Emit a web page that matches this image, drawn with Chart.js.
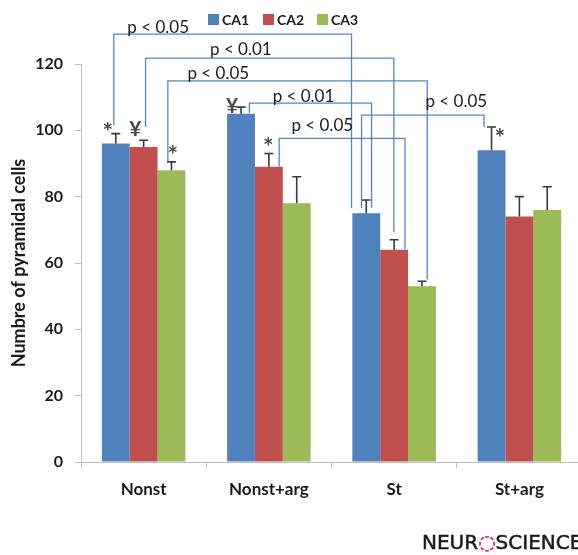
<!DOCTYPE html>
<html>
<head>
<meta charset="utf-8">
<script src="https://cdn.jsdelivr.net/npm/chart.js@4.4.1/dist/chart.umd.min.js"></script>
<style>
  body { margin: 0; background: #fff; }
  #wrap { position: relative; width: 578px; height: 555px; overflow: hidden; }
  #logo { position: absolute; left: 422px; top: 530px; font: 20px "DejaVu Sans", sans-serif; color: #1a1a1a; white-space: nowrap; -webkit-text-stroke: 0.5px #1a1a1a; }
  #logo span { color: #e0127f; -webkit-text-stroke: 0.5px #e0127f; }
</style>
</head>
<body>
<div id="wrap">
  <canvas id="chart" width="582" height="555"></canvas>
  <div id="logo">NEUR<span>◌</span>SCIENCE</div>
</div>
<script>
const categories = ['Nonst', 'Nonst+arg', 'St', 'St+arg'];
const seriesNames = ['CA1', 'CA2', 'CA3'];
const ca1 = [96, 105, 75, 94];
const ca2 = [95, 89, 64, 74];
const ca3 = [88, 78, 53, 76];
const ca1Sd = [3, 2, 4, 7];
const ca2Sd = [2, 4, 3, 6];
const ca3Sd = [2.5, 8, 1.5, 7];
const yTicks = [0, 20, 40, 60, 80, 100, 120];
const colors = ['#4f81bd', '#c0504d', '#9bbb59'];

// significance brackets: [dataset, category] pairs
const comparisons = [
  { p: 'p < 0.05', a: [0, 0], b: [0, 2] },
  { p: 'p < 0.01', a: [1, 0], b: [1, 2] },
  { p: 'p < 0.05', a: [2, 0], b: [2, 2] },
  { p: 'p < 0.01', a: [0, 1], b: [0, 2] },
  { p: 'p < 0.05', a: [0, 2], b: [0, 3] },
  { p: 'p < 0.05', a: [1, 1], b: [1, 2] }
];
// where each bracket sits (bar-width offsets, value heights, label spot)
const bracketLayout = [
  { level: 129,   aOff: -0.07, aEnd: 101.5, bOff: -0.53, bEnd: 76.5, labelX: -0.13, labelY: 131 },
  { level: 121.8, aOff: 0.07,  aEnd: 101,   bOff: -0.01, bEnd: 69.3, labelX: 0.53,  labelY: 124.4 },
  { level: 114.9, aOff: -0.13, aEnd: 90.5,  bOff: 0.19,  bEnd: 55,   labelX: 0.35,  labelY: 117.2 },
  { level: 108.2, aOff: 0.3,   aEnd: 105.2, bOff: 0.19,  bEnd: 76.6, labelX: 1.03,  labelY: 110.1 },
  { level: 104.6, aOff: -0.17, aEnd: 76.6,  bOff: -0.27, bEnd: 101,  labelX: 2.25,  labelY: 108.6 },
  { level: 97.6,  aOff: 0.37,  aEnd: 89,    bOff: 0.39,  bEnd: 64,   labelX: 1.18,  labelY: 101.6 }
];
const markers = [
  { sym: '*', ds: 0, idx: 0, off: -0.29, value: 100.4 },
  { sym: '¥', ds: 1, idx: 0, off: -0.3,  value: 100 },
  { sym: '*', ds: 2, idx: 0, off: 0.05,  value: 93.6 },
  { sym: '¥', ds: 0, idx: 1, off: -0.32, value: 107 },
  { sym: '*', ds: 1, idx: 1, off: -0.02, value: 96 },
  { sym: '*', ds: 0, idx: 3, off: 0.3,   value: 98.6 }
];

const values = [ca1, ca2, ca3];
const sds = [ca1Sd, ca2Sd, ca3Sd];

const extras = {
  id: 'extras',
  afterDatasetsDraw(chart) {
    const ctx = chart.ctx;
    const y = chart.scales.y;
    const x = chart.scales.x;
    const bar = (ds, i) => chart.getDatasetMeta(ds).data[i];

    // error bars
    ctx.save();
    ctx.strokeStyle = '#3a3a3a';
    ctx.lineWidth = 1.6;
    sds.forEach((sd, ds) => {
      sd.forEach((s, i) => {
        const b = bar(ds, i);
        const top = y.getPixelForValue(values[ds][i] + s);
        ctx.beginPath();
        ctx.moveTo(b.x, b.y);
        ctx.lineTo(b.x, top);
        ctx.moveTo(b.x - 4.5, top);
        ctx.lineTo(b.x + 4.5, top);
        ctx.stroke();
      });
    });
    ctx.restore();

    // brackets
    ctx.save();
    ctx.strokeStyle = '#4f86cf';
    ctx.lineWidth = 1.3;
    ctx.fillStyle = '#1a1a1a';
    ctx.font = '17px Lato, sans-serif';
    ctx.textBaseline = 'middle';
    comparisons.forEach((c, k) => {
      const L = bracketLayout[k];
      const ba = bar(c.a[0], c.a[1]);
      const bb = bar(c.b[0], c.b[1]);
      const xa = ba.x + L.aOff * ba.width;
      const xb = bb.x + L.bOff * bb.width;
      const yl = y.getPixelForValue(L.level);
      ctx.beginPath();
      ctx.moveTo(xa, y.getPixelForValue(L.aEnd));
      ctx.lineTo(xa, yl);
      ctx.lineTo(xb, yl);
      ctx.lineTo(xb, y.getPixelForValue(L.bEnd));
      ctx.stroke();
      const step = x.getPixelForValue(1) - x.getPixelForValue(0);
      ctx.fillText(c.p, x.getPixelForValue(0) + L.labelX * step, y.getPixelForValue(L.labelY));
    });
    ctx.restore();

    // markers
    ctx.save();
    ctx.fillStyle = '#4a4a4a';
    ctx.textAlign = 'center';
    ctx.textBaseline = 'middle';
    markers.forEach(m => {
      const b = bar(m.ds, m.idx);
      const star = m.sym === '*';
      ctx.font = star ? 'bold 25px Lato, sans-serif' : 'bold 21px Lato, sans-serif';
      const dy = star ? 4 : -1;
      ctx.fillText(m.sym, b.x + m.off * b.width, y.getPixelForValue(m.value) + dy);
    });
    ctx.restore();
  },
  afterDraw(chart) {
    const ctx = chart.ctx;
    ctx.save();
    ctx.font = 'bold 14px Lato, sans-serif';
    ctx.textBaseline = 'middle';
    const starts = [208, 263, 317];
    chart.data.datasets.forEach((d, i) => {
      ctx.fillStyle = d.backgroundColor;
      ctx.fillRect(starts[i], 14, 11, 11);
      ctx.fillStyle = '#1a1a1a';
      ctx.fillText(d.label, starts[i] + 14, 20);
    });
    ctx.restore();
  }
};

new Chart(document.getElementById('chart'), {
  type: 'bar',
  data: {
    labels: categories,
    datasets: seriesNames.map((name, i) => ({
      label: name,
      data: values[i],
      backgroundColor: colors[i],
      borderWidth: 0,
      categoryPercentage: 0.667,
      barPercentage: 1.0
    }))
  },
  options: {
    responsive: false,
    animation: false,
    layout: { padding: { top: 64, right: 0, bottom: 0, left: 0 } },
    plugins: { legend: { display: false }, tooltip: { enabled: false } },
    scales: {
      x: {
        grid: { offset: true, drawOnChartArea: false, tickLength: 6, color: '#bfbfbf' },
        border: { color: '#bfbfbf' },
        ticks: { color: '#1a1a1a', font: { family: 'Lato', weight: 'bold', size: 17 }, padding: 11 },
        afterFit(s) { s.height = 93; }
      },
      y: {
        min: 0,
        max: 120,
        afterBuildTicks(s) { s.ticks = yTicks.map(v => ({ value: v })); },
        grid: { drawOnChartArea: false, tickLength: 6, color: '#bfbfbf' },
        border: { color: '#bfbfbf' },
        ticks: { color: '#1a1a1a', font: { family: 'Lato', weight: 'bold', size: 16 }, padding: 12 },
        title: {
          display: true,
          text: 'Numbre of pyramidal cells',
          color: '#1a1a1a',
          font: { family: 'Lato', weight: 'bold', size: 18 },
          padding: { top: 8, bottom: 0 }
        },
        afterFit(s) { s.width = 81; }
      }
    }
  },
  plugins: [extras]
});
</script>
</body>
</html>
